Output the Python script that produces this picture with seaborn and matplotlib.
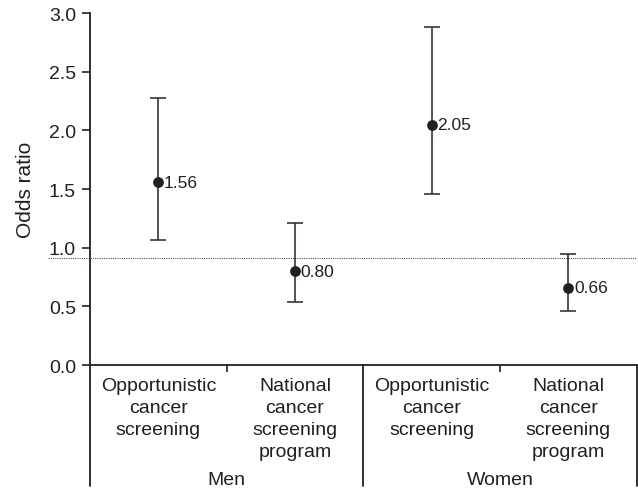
import numpy as np
import pandas as pd
import matplotlib
matplotlib.use("Agg")
import matplotlib.pyplot as plt
import seaborn as sns

categories = ["Opportunistic\ncancer\nscreening", "National\ncancer\nscreening\nprogram",
              "Opportunistic\ncancer\nscreening", "National\ncancer\nscreening\nprogram"]
groups = ["Men", "Women"]
odds = [1.56, 0.80, 2.05, 0.66]
ci_low = [1.07, 0.54, 1.46, 0.46]
ci_high = [2.28, 1.21, 2.88, 0.95]
ref_line = 0.91
yticks = [0.0, 0.5, 1.0, 1.5, 2.0, 2.5, 3.0]

sns.set_style("ticks")
plt.rcParams['font.family'] = ['Liberation Sans', 'DejaVu Sans']
ink = "#231f20"

fig = plt.figure(figsize=(6.38, 4.89), dpi=100)
ax = fig.add_axes([0.141, 0.2515, 0.857, 0.7195])

pos = np.arange(len(odds))
df = pd.DataFrame({"pos": pos, "odds": odds})
err = np.array([np.array(odds) - np.array(ci_low), np.array(ci_high) - np.array(odds)])
ax.errorbar(pos, odds, yerr=err, fmt="none", ecolor="#3a3536", elinewidth=1.2,
            capsize=6, capthick=1.2, zorder=2)
sns.scatterplot(data=df, x="pos", y="odds", ax=ax, color=ink, s=60, edgecolor=ink,
                linewidth=0, zorder=3, legend=False)
for p, v in zip(pos, odds):
    ax.annotate(f"{v:.2f}", (p, v), xytext=(4, 0), textcoords="offset points",
                ha="left", va="center", fontsize=12.5, color=ink)

ax.plot([-0.077, 1.0], [ref_line, ref_line], transform=ax.get_yaxis_transform(),
        color="#555555", lw=0.8, ls=(0, (1, 1)), clip_on=False, zorder=1)

ax.set_xlim(-0.5, 3.5)
ax.set_ylim(0, 3.0)
ax.set_yticks(yticks)
ax.set_yticklabels([f"{t:.1f}" for t in yticks], fontsize=14, color=ink)
ax.tick_params(axis="y", length=6, width=1.2, color=ink, pad=4)
ax.set_ylabel("Odds ratio", fontsize=15, color=ink, labelpad=10)
ax.set_xlabel("")

ax.set_xticks([0.5, 2.5])
ax.set_xticklabels([])
ax.tick_params(axis="x", length=5, width=1.2, color=ink, direction="out")

for s in ["top", "right"]:
    ax.spines[s].set_visible(False)
ax.spines["left"].set_color(ink)
ax.spines["left"].set_linewidth(1.3)
ax.spines["bottom"].set_color(ink)
ax.spines["bottom"].set_linewidth(1.3)

trans = ax.get_xaxis_transform()
bottom_y = -121 / 352
for xv in [-0.5, 1.5, 3.5]:
    ax.plot([xv, xv], [0, bottom_y], transform=trans, color=ink, lw=1.3, clip_on=False)

for p, c in zip(pos, categories):
    ax.text(p, -0.035, c, transform=trans, ha="center", va="top", fontsize=14,
            color=ink, linespacing=1.37)
for i, g in enumerate(groups):
    ax.text(2 * i + 0.5, -0.339, g, transform=trans, ha="center", va="baseline",
            fontsize=14, color=ink)

fig.savefig("out.png", dpi=100)
